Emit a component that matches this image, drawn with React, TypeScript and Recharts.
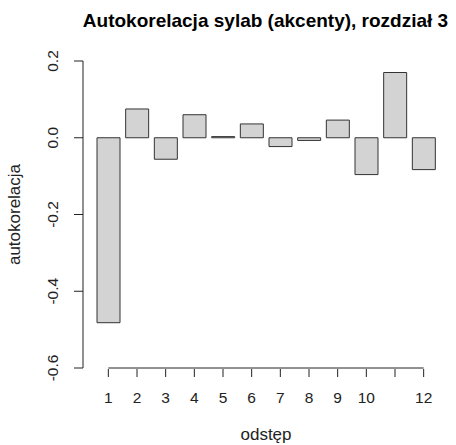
import React from "react";
import {
  BarChart,
  Bar,
  XAxis,
  YAxis,
  ReferenceLine,
  Label,
} from "recharts";

// ACF values
const lags = [1, 2, 3, 4, 5, 6, 7, 8, 9, 10, 11, 12];
const acf = [-0.482, 0.075, -0.056, 0.06, 0.003, 0.036, -0.023, -0.007, 0.046, -0.096, 0.17, -0.083];
const yTicks = [-0.6, -0.4, -0.2, 0, 0.2];
// R drops the "11" label because it would overlap "10"
const hiddenLabels = [11];

const data = lags.map((lag, i) => ({ lag, acf: acf[i] }));

const FONT = "'Liberation Sans', Arial, Helvetica, sans-serif";
const INK = "#222";
const TICK_FONT = 15.5;

function YTick(props: any) {
  const { x, y, payload } = props;
  return (
    <text
      x={x}
      y={y}
      transform={`rotate(-90, ${x}, ${y})`}
      textAnchor="middle"
      fontFamily={FONT}
      fontSize={TICK_FONT}
      fill={INK}
    >
      {Number(payload.value).toFixed(1)}
    </text>
  );
}

function XTick(props: any) {
  const { x, y, payload } = props;
  const hide = hiddenLabels.includes(payload.value);
  return (
    <g>
      <line x1={x} x2={x} y1={y + 1} y2={y + 9} stroke={INK} strokeWidth={1} />
      {!hide && (
        <text
          x={x}
          y={y + 35}
          textAnchor="middle"
          fontFamily={FONT}
          fontSize={TICK_FONT}
          fill={INK}
        >
          {payload.value}
        </text>
      )}
    </g>
  );
}

export default function App() {
  return (
    <div style={{ position: "absolute", left: 0, top: 0, width: 456, height: 445, background: "#fff" }}>
      <BarChart
        width={456}
        height={445}
        data={data}
        margin={{ top: 61, right: 7, bottom: 0, left: 0 }}
        barSize={23}
      >
        <XAxis
          dataKey="lag"
          type="category"
          height={77}
          padding={{ left: 11, right: 11 }}
          axisLine={false}
          tickLine={false}
          tickSize={0}
          tickMargin={0}
          interval={0}
          tick={<XTick />}
        >
          <Label
            content={() => (
              <text x={266} y={440} textAnchor="middle" fontFamily={FONT} fontSize={17} fill={INK}>
                odstęp
              </text>
            )}
          />
        </XAxis>
        <YAxis
          type="number"
          domain={[-0.6, 0.2]}
          ticks={yTicks}
          width={83}
          tickSize={9}
          tickMargin={16}
          axisLine={{ stroke: INK }}
          tickLine={{ stroke: INK }}
          tick={<YTick />}
        >
          <Label
            content={() => (
              <text
                x={20}
                y={214.5}
                transform="rotate(-90, 20, 214.5)"
                textAnchor="middle"
                fontFamily={FONT}
                fontSize={17}
                fill={INK}
              >
                autokorelacja
              </text>
            )}
          />
        </YAxis>
        <ReferenceLine
          segment={[
            { x: lags[0], y: -0.6 },
            { x: lags[lags.length - 1], y: -0.6 },
          ]}
          stroke={INK}
          strokeWidth={1}
          ifOverflow="visible"
        />
        <Bar
          dataKey="acf"
          fill="#d3d3d3"
          stroke="#333"
          strokeWidth={1}
          isAnimationActive={false}
        />
      </BarChart>
      <svg
        width={456}
        height={40}
        style={{ position: "absolute", left: 0, top: 0, pointerEvents: "none" }}
      >
        <text
          x={265.5}
          y={27}
          textAnchor="middle"
          fontFamily={FONT}
          fontSize={19}
          fontWeight="bold"
          fill="#000"
        >
          Autokorelacja sylab (akcenty), rozdział 3
        </text>
      </svg>
    </div>
  );
}
